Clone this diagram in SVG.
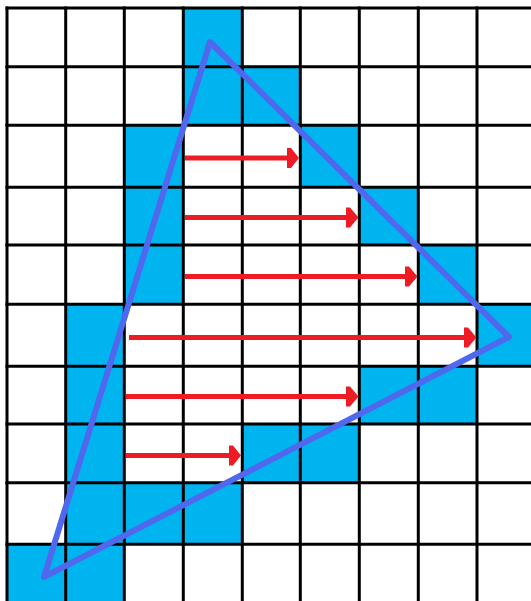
<svg xmlns="http://www.w3.org/2000/svg" width="531" height="601" viewBox="0 0 531 601">
<style>
.cell{fill:#00B5EF}
.grid line{stroke:#000;stroke-width:3}
.arrow line{stroke:#ED1C24;stroke-width:5}
.arrow polygon{fill:#ED1C24}
.tri{fill:none;stroke:#5068EE;stroke-width:6;stroke-linejoin:round}
</style>
<rect width="531" height="601" fill="#fff"/>
<g id="cells">
<rect class="cell" x="183" y="8" width="59" height="59"/>
<rect class="cell" x="183" y="67" width="59" height="59"/>
<rect class="cell" x="242" y="67" width="59" height="59"/>
<rect class="cell" x="124" y="125" width="59" height="62"/>
<rect class="cell" x="300" y="125" width="59" height="62"/>
<rect class="cell" x="124" y="187" width="59" height="58"/>
<rect class="cell" x="359" y="187" width="59" height="58"/>
<rect class="cell" x="124" y="245" width="59" height="59"/>
<rect class="cell" x="418" y="245" width="59" height="59"/>
<rect class="cell" x="66" y="304" width="59" height="62"/>
<rect class="cell" x="477" y="304" width="54" height="62"/>
<rect class="cell" x="66" y="366" width="59" height="58"/>
<rect class="cell" x="359" y="366" width="59" height="58"/>
<rect class="cell" x="418" y="366" width="59" height="58"/>
<rect class="cell" x="66" y="424" width="59" height="59"/>
<rect class="cell" x="242" y="424" width="59" height="59"/>
<rect class="cell" x="300" y="424" width="59" height="59"/>
<rect class="cell" x="66" y="483" width="59" height="61"/>
<rect class="cell" x="124" y="483" width="59" height="61"/>
<rect class="cell" x="183" y="483" width="59" height="61"/>
<rect class="cell" x="7" y="544" width="59" height="57"/>
<rect class="cell" x="66" y="544" width="59" height="57"/>
</g>
<g id="grid" class="grid">
<line x1="7" y1="6.5" x2="7" y2="601"/>
<line x1="65.7" y1="6.5" x2="65.7" y2="601"/>
<line x1="124.3" y1="6.5" x2="124.3" y2="601"/>
<line x1="183.3" y1="6.5" x2="183.3" y2="601"/>
<line x1="242.3" y1="6.5" x2="242.3" y2="601"/>
<line x1="300.3" y1="6.5" x2="300.3" y2="601"/>
<line x1="359.3" y1="6.5" x2="359.3" y2="601"/>
<line x1="418.3" y1="6.5" x2="418.3" y2="601"/>
<line x1="477" y1="6.5" x2="477" y2="601"/>
<line x1="5.5" y1="8" x2="531" y2="8"/>
<line x1="5.5" y1="66.7" x2="531" y2="66.7"/>
<line x1="5.5" y1="125.3" x2="531" y2="125.3"/>
<line x1="5.5" y1="187.3" x2="531" y2="187.3"/>
<line x1="5.5" y1="245" x2="531" y2="245"/>
<line x1="5.5" y1="304.3" x2="531" y2="304.3"/>
<line x1="5.5" y1="366.3" x2="531" y2="366.3"/>
<line x1="5.5" y1="424" x2="531" y2="424"/>
<line x1="5.5" y1="482.7" x2="531" y2="482.7"/>
<line x1="5.5" y1="544.3" x2="531" y2="544.3"/>
</g>
<polygon id="triangle" class="tri" points="210,42 509,337 44,577"/>
<g id="connectors" class="arrow">
<line x1="185" y1="158" x2="290" y2="158"/><polygon points="287,148 291,148 299,158 291,168 287,168"/>
<line x1="185" y1="217.5" x2="349" y2="217.5"/><polygon points="346,207.5 350,207.5 358.5,217.5 350,227.5 346,227.5"/>
<line x1="185" y1="276.5" x2="408" y2="276.5"/><polygon points="405,266.5 409,266.5 417.5,276.5 409,286.5 405,286.5"/>
<line x1="129" y1="337.5" x2="466" y2="337.5"/><polygon points="464,327.5 468,327.5 476.5,337.5 468,347.5 464,347.5"/>
<line x1="126" y1="396.5" x2="348" y2="396.5"/><polygon points="346,386.5 350,386.5 358.5,396.5 350,406.5 346,406.5"/>
<line x1="126" y1="455.5" x2="231" y2="455.5"/><polygon points="229,445.5 233,445.5 241,455.5 233,465.5 229,465.5"/>
</g>
</svg>
